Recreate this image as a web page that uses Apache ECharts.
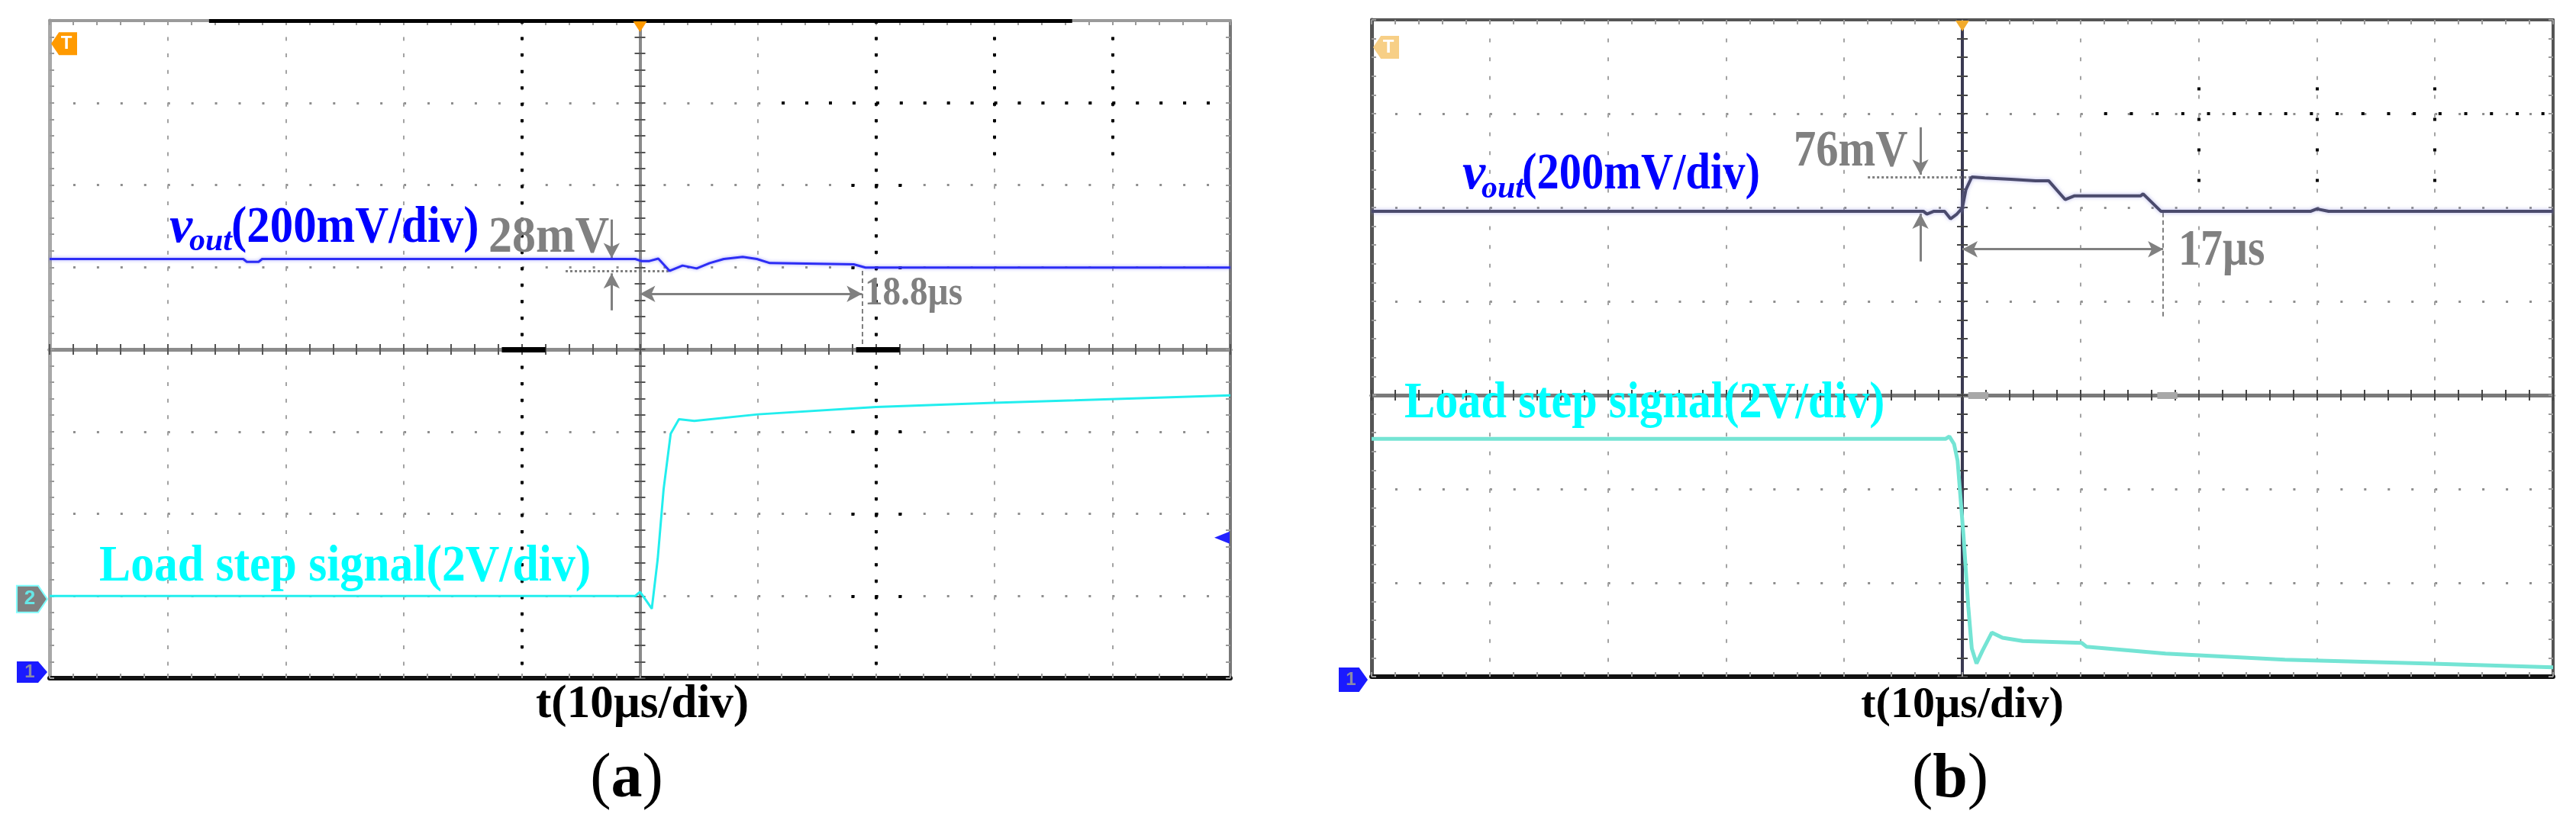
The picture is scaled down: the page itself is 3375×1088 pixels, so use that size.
<!DOCTYPE html>
<html><head><meta charset="utf-8">
<script src="https://cdn.jsdelivr.net/npm/echarts@6/dist/echarts.min.js"></script>
<style>html,body{margin:0;padding:0;background:#fff}#c{width:3375px;height:1088px}</style>
</head><body><div id="c"></div>
<script>
// ===================== DATA (read from the scope captures) =====================
// time axis: microseconds, 10 µs/div, trigger at t = 0
// Panel (a): load step up
const tA_vout = [-50, -33.6, -33.3, -32.3, -32.0, -0.4, 0.1, 0.8, 1.55, 2.5, 3.6, 4.8, 5.9, 7.1, 8.7, 9.9, 11.0, 18.1, 19.1, 50];
const vA_vout = [1020, 1020, 1013, 1013, 1020, 1020, 1015, 1015, 1021, 991, 1004, 997, 1010, 1020, 1025, 1020, 1010, 1007, 999, 999]; // mV
const tA_load = [-50, -0.4, 0.0, 0.5, 1.0, 1.5, 2.0, 2.6, 3.3, 4.6, 10, 20, 30, 36.8, 50];
const vA_load = [0, 0, 0.1, -0.1, -0.31, 0.9, 2.6, 3.95, 4.3, 4.26, 4.42, 4.6, 4.7, 4.76, 4.88]; // V
// Panel (b): load step down
const tB_vout = [-50, -3.3, -3.0, -2.4, -1.5, -1.0, -0.5, 0, 0.3, 0.8, 1.9, 4.1, 6.2, 7.3, 8.7, 9.5, 15.1, 15.3, 16.8, 29.5, 30.0, 31.0, 50];
const vB_vout = [992, 992, 986, 992, 992, 976, 985, 999, 1038, 1065, 1063, 1060, 1057, 1057, 1017, 1025, 1025, 1029, 992, 992, 997, 992, 992]; // mV
const tB_load = [-50, -1.4, -1.1, -0.7, -0.4, 0.1, 0.5, 0.8, 1.2, 1.7, 2.5, 3.4, 5.1, 10.1, 10.5, 17.2, 27.3, 39.3, 50];
const vB_load = [5.07, 5.07, 5.12, 4.96, 4.6, 3.0, 1.5, 0.6, 0.28, 0.55, 0.94, 0.83, 0.76, 0.72, 0.64, 0.49, 0.36, 0.28, 0.2]; // V
// annotations
const A_DEV_MV = 28, A_SETTLE_US = 18.8;
const B_DEV_MV = 76, B_SETTLE_US = 17;
const VOUT_SCALE = '(200mV/div)';
const LOAD_LABEL = 'Load step signal(2V/div)';
const TIME_LABEL = 't(10µs/div)';
const PANEL_TAGS = ['a', 'b'];

// ===================== BUILD =====================
const zip = (t, v) => t.map((x, i) => [x, v[i]]);
const SERIF = '"Liberation Serif","Times New Roman",serif';
const GRAY = '#808080', BLUE = '#0000ff', CYAN = '#00ffff';

function makeX(g, yDiv, st) {
  const base = {gridIndex: g, type: 'value', min: -50, max: 50, interval: 10, axisLabel: {show: false}, splitLine: {show: false}, silent: true};
  const mt = (c, len, inside) => ({
    axisTick: {show: true, inside: inside, length: len, lineStyle: {color: c, width: 2}},
    minorTick: {show: true, splitNumber: 5, length: len, lineStyle: {color: c, width: 2}}
  });
  return [
    Object.assign({}, base, mt('#9a9a9a', 6, true), {position: 'bottom',
      axisLine: {onZero: false, lineStyle: {color: st.bottom, width: 6}},
      splitLine: {show: true, lineStyle: {color: '#a3a3a3', width: 2, type: [5, st.vStep - 5]}}}),
    Object.assign({}, base, mt('#9a9a9a', 6, true), {position: 'top',
      axisLine: {onZero: false, lineStyle: {color: st.top, width: 4}}}),
    Object.assign({}, base, mt(st.ct, 7, false), {position: 'bottom',
      axisLine: {onZero: true, onZeroAxisIndex: yDiv, lineStyle: {color: st.cx, width: 5}}}),
    Object.assign({}, base, mt(st.ct, 7, true), {position: 'bottom',
      axisLine: {onZero: true, onZeroAxisIndex: yDiv, lineStyle: {color: st.cx, width: 5}}})
  ];
}
function makeY(g, xMain, st, dmin, dmax, ch1, ch2) {
  const base = {gridIndex: g, type: 'value', axisLabel: {show: false}, splitLine: {show: false}, silent: true};
  const div = Object.assign({}, base, {min: dmin, max: dmax, interval: 1});
  const mt = (c, len, inside) => ({
    axisTick: {show: true, inside: inside, length: len, lineStyle: {color: c, width: 2}},
    minorTick: {show: true, splitNumber: 5, length: len, lineStyle: {color: c, width: 2}}
  });
  return [
    Object.assign({}, div, mt('#9a9a9a', 6, true), {position: 'left',
      axisLine: {onZero: false, lineStyle: {color: st.left, width: 5}},
      splitLine: {show: true, lineStyle: {color: '#8e8e8e', width: 3, type: [3, st.hStep - 3]}}}),
    Object.assign({}, div, mt('#9a9a9a', 6, true), {position: 'right',
      axisLine: {onZero: false, lineStyle: {color: st.right, width: 4}}}),
    Object.assign({}, div, mt(st.ct, 7, false), {position: 'left',
      axisLine: {onZero: true, onZeroAxisIndex: xMain, lineStyle: {color: st.cy, width: 4}}}),
    Object.assign({}, div, mt(st.ct, 7, true), {position: 'left',
      axisLine: {onZero: true, onZeroAxisIndex: xMain, lineStyle: {color: st.cy, width: 4}}}),
    Object.assign({}, base, {min: ch1[0], max: ch1[1], show: false}),
    Object.assign({}, base, {min: ch2[0], max: ch2[1], show: false})
  ];
}
function seg(a, b, style, sym, size) {
  sym = sym || ['none', 'none'];
  size = size || [16, 20];
  return [{coord: a, symbol: sym[0], symbolSize: size, lineStyle: style}, {coord: b, symbol: sym[1], symbolSize: size}];
}
const arrowStyle = {color: GRAY, width: 3, type: 'solid'};
const dotted = {color: GRAY, width: 3, type: [3, 3]};
const dashed = {color: GRAY, width: 2, type: [6, 4]};
const ML = data => ({silent: true, symbol: 'none', label: {show: false}, emphasis: {disabled: true}, animation: false, data: data});
const MP = data => ({silent: true, label: {show: false}, emphasis: {disabled: true}, animation: false, data: data});

const pentR = 'path://M0,0 L28,0 L40,17 L28,34 L0,34 Z';
const pentL = 'path://M12,0 L40,0 L40,34 L12,34 L0,17 Z';

const stA = {bottom: '#111', top: '#9a9a9a', left: '#a8a8a8', right: '#777', cx: '#8c8c8c', cy: '#8a8a8a', ct: '#555', vStep: 862 / 40, hStep: 1547 / 50};
const stB = {bottom: '#111', top: '#555', left: '#555', right: '#555', cx: '#7a7a7a', cy: '#3a3a52', ct: '#444', vStep: 861 / 35, hStep: 1548 / 50};

const xAxis = makeX(0, 0, stA).concat(makeX(1, 6, stB));
const yAxis = makeY(0, 0, stA, -4, 4, [0, 1600], [-2, 14]).concat(makeY(1, 4, stB, -3, 4, [0, 1400], [0, 14]));

const K = '#000';
const series = [
  // ---------- panel (a) ----------
  {type: 'line', name: 'vout a', xAxisIndex: 0, yAxisIndex: 4, data: zip(tA_vout, vA_vout), showSymbol: false, symbol: 'none', silent: true, z: 6,
   lineStyle: {color: '#2d2df5', width: 3, shadowColor: 'rgba(90,90,255,0.55)', shadowBlur: 4},
   markLine: ML([
     seg([-6.3, 991], [2.5, 991], dotted),
     seg([-2.4, 1116], [-2.4, 1022], arrowStyle, ['none', 'arrow']),
     seg([-2.4, 895], [-2.4, 985], arrowStyle, ['none', 'arrow']),
     seg([0, 935], [A_SETTLE_US, 935], arrowStyle, ['arrow', 'arrow']),
     seg([A_SETTLE_US, 991], [A_SETTLE_US, 791], dashed)
   ]),
   markPoint: MP([{coord: [-50, 0], symbol: pentR, symbolSize: [40, 28], symbolOffset: [-23, -8],
     itemStyle: {color: '#1a1aff'}, label: {show: true, position: 'inside', formatter: '1', color: '#8a8aa8', fontSize: 24, fontWeight: 'bold', offset: [-3, 0]}}])
  },
  {type: 'line', name: 'load a', xAxisIndex: 0, yAxisIndex: 5, data: zip(tA_load, vA_load), showSymbol: false, symbol: 'none', silent: true, z: 5,
   lineStyle: {color: '#22eeee', width: 3},
   markPoint: MP([{coord: [-50, 0], symbol: pentR, symbolSize: [40, 35], symbolOffset: [-23, 4],
     itemStyle: {color: '#808080', borderColor: '#80ffff', borderWidth: 2}, label: {show: true, position: 'inside', formatter: '2', color: '#66e6e6', fontSize: 26, fontWeight: 'bold', offset: [-3, 0]}}])
  },
  {type: 'line', name: 'decor a', xAxisIndex: 0, yAxisIndex: 0, data: [], silent: true, z: 4,
   markLine: ML([
     seg([-10, 4], [-10, -4], {color: K, width: 4, type: [4, 862 / 40 - 4]}),
     seg([20, 4], [20, -4], {color: K, width: 4, type: [4, 862 / 40 - 4]}),
     seg([12, 3], [50, 3], {color: K, width: 4, type: [4, 1547 / 50 - 4]}),
     seg([30, 3.8], [30, 2.2], {color: K, width: 4, type: [4, 862 / 40 - 4]}),
     seg([40, 3.8], [40, 2.2], {color: K, width: 4, type: [4, 862 / 40 - 4]})
   ].concat([2, 1, -1, -2, -3].map(k => seg([17.9, k], [22.2, k], {color: K, width: 4, type: [4, 1547 / 50 - 4]}))).concat([
     seg([-36.5, 4], [36.6, 4], {color: K, width: 5, type: 'solid'}),
     seg([-11.7, 0], [-8.0, 0], {color: K, width: 7, type: 'solid'}),
     seg([18.3, 0], [22.0, 0], {color: K, width: 7, type: 'solid'})
   ])),
   markPoint: MP([
     {coord: [0, 4], symbol: 'triangle', symbolRotate: 180, symbolSize: [18, 14], symbolOffset: [0, 8], itemStyle: {color: '#ff9900'}},
     {coord: [-50, 3.72], symbol: pentL, symbolSize: [34, 30], symbolOffset: [19, 0], itemStyle: {color: '#ff9a00'},
      label: {show: true, position: 'inside', formatter: 'T', color: '#fff', fontSize: 24, fontWeight: 'bold', offset: [3, 0]}},
     {coord: [50, -2.29], symbol: 'triangle', symbolRotate: 90, symbolSize: [16, 20], symbolOffset: [-11, 0], itemStyle: {color: '#2222ff'}}
   ])
  },
  // ---------- panel (b) ----------
  {type: 'line', name: 'vout b', xAxisIndex: 4, yAxisIndex: 10, data: zip(tB_vout, vB_vout), showSymbol: false, symbol: 'none', silent: true, z: 6,
   lineStyle: {color: '#4a4a6c', width: 4, shadowColor: 'rgba(150,150,225,0.7)', shadowBlur: 5},
   markLine: ML([
     seg([-8.0, 1065], [1.7, 1065], dotted),
     seg([-3.55, 1171], [-3.55, 1070], arrowStyle, ['none', 'arrow']),
     seg([-3.55, 885], [-3.55, 987], arrowStyle, ['none', 'arrow']),
     seg([0, 911], [B_SETTLE_US, 911], arrowStyle, ['arrow', 'arrow']),
     seg([B_SETTLE_US, 989], [B_SETTLE_US, 763], dashed)
   ]),
   markPoint: MP([{coord: [-50, 0], symbol: pentR, symbolSize: [38, 32], symbolOffset: [-24, 4],
     itemStyle: {color: '#1a1aff'}, label: {show: true, position: 'inside', formatter: '1', color: '#8a8aa8', fontSize: 24, fontWeight: 'bold', offset: [-3, 0]}}])
  },
  {type: 'line', name: 'load b', xAxisIndex: 4, yAxisIndex: 11, data: zip(tB_load, vB_load), showSymbol: false, symbol: 'none', silent: true, z: 5,
   lineStyle: {color: '#74e4d4', width: 5}
  },
  {type: 'line', name: 'decor b', xAxisIndex: 4, yAxisIndex: 6, data: [], silent: true, z: 4,
   markLine: ML([
     seg([12, 3], [49.5, 3], {color: K, width: 4, type: [4, 29.7]})
   ].concat([20, 30, 40].map(t => seg([t, 3.28], [t, 2.25], {color: K, width: 4, type: [4, 36]}))).concat([
     seg([0.5, 0], [2.2, 0], {color: '#a8a8a8', width: 9, type: 'solid'}),
     seg([16.5, 0], [18.2, 0], {color: '#a8a8a8', width: 9, type: 'solid'})
   ])),
   markPoint: MP([
     {coord: [0, 4], symbol: 'triangle', symbolRotate: 180, symbolSize: [18, 14], symbolOffset: [0, 8], itemStyle: {color: '#f2aa2a'}},
     {coord: [-50, 3.707], symbol: pentL, symbolSize: [34, 30], symbolOffset: [19, 0], itemStyle: {color: '#f7cf86'},
      label: {show: true, position: 'inside', formatter: 'T', color: '#fff', fontSize: 24, fontWeight: 'bold', offset: [3, 0]}}
   ])
  }
];

// text helper: x = left (or centre), base = baseline in px
function T(x, base, text, size, o) {
  o = o || {};
  const font = (o.italic ? 'italic ' : '') + (o.weight || 'bold') + ' ' + size + 'px ' + SERIF;
  return {type: 'text', x: x, y: base - 0.3375 * size, scaleX: o.sx || 1, z: 100, silent: true,
    style: {text: text, x: 0, y: 0, fill: o.color || '#000', font: font,
      align: o.align || 'left', textAlign: o.align || 'left', verticalAlign: 'middle', textVerticalAlign: 'middle'}};
}
function tag(cx, base, letter) {
  const size = 82;
  return {type: 'text', x: cx, y: base - 0.3375 * size, z: 100, silent: true,
    style: {text: '{p|(}{b|' + letter + '}{p|)}', x: 0, y: 0, align: 'center', textAlign: 'center', verticalAlign: 'middle', textVerticalAlign: 'middle',
      rich: {p: {font: 'normal ' + size + 'px ' + SERIF, fill: '#000'}, b: {font: 'bold ' + size + 'px ' + SERIF, fill: '#000'}}}};
}

const graphic = [
  // panel (a)
  T(222, 322, 'v', 68, {italic: true, color: BLUE}),
  T(248, 331, 'out', 42, {italic: true, color: BLUE}),
  T(303, 322, VOUT_SCALE, 68, {color: BLUE, sx: 0.895}),
  T(640, 335, A_DEV_MV + 'mV', 68, {color: GRAY, sx: 0.91}),
  T(1133, 403, A_SETTLE_US + 'µs', 53, {color: GRAY, sx: 0.89}),
  T(130, 766, LOAD_LABEL, 68, {color: CYAN, sx: 0.907}),
  T(702, 945, TIME_LABEL, 61),
  tag(821, 1050, PANEL_TAGS[0]),
  // panel (b)
  T(1916, 252, 'v', 68, {italic: true, color: BLUE}),
  T(1941, 262, 'out', 42, {italic: true, color: BLUE}),
  T(1994, 252, VOUT_SCALE, 68, {color: BLUE, sx: 0.86}),
  T(2350, 222, B_DEV_MV + 'mV', 68, {color: GRAY, sx: 0.86}),
  T(2854, 352, B_SETTLE_US + 'µs', 68, {color: GRAY, sx: 0.85}),
  T(1840, 552, LOAD_LABEL, 68, {color: CYAN, sx: 0.886}),
  T(2571, 945, TIME_LABEL, 58, {align: 'center'}),
  tag(2555, 1050, PANEL_TAGS[1])
];

const chart = echarts.init(document.getElementById('c'), null, {renderer: 'canvas'});
chart.setOption({
  backgroundColor: '#ffffff',
  animation: false,
  grid: [
    {left: 65, top: 27, width: 1547, height: 862},
    {left: 1797, top: 26, width: 1548, height: 861}
  ],
  xAxis: xAxis,
  yAxis: yAxis,
  series: series,
  graphic: graphic
});
</script></body></html>
